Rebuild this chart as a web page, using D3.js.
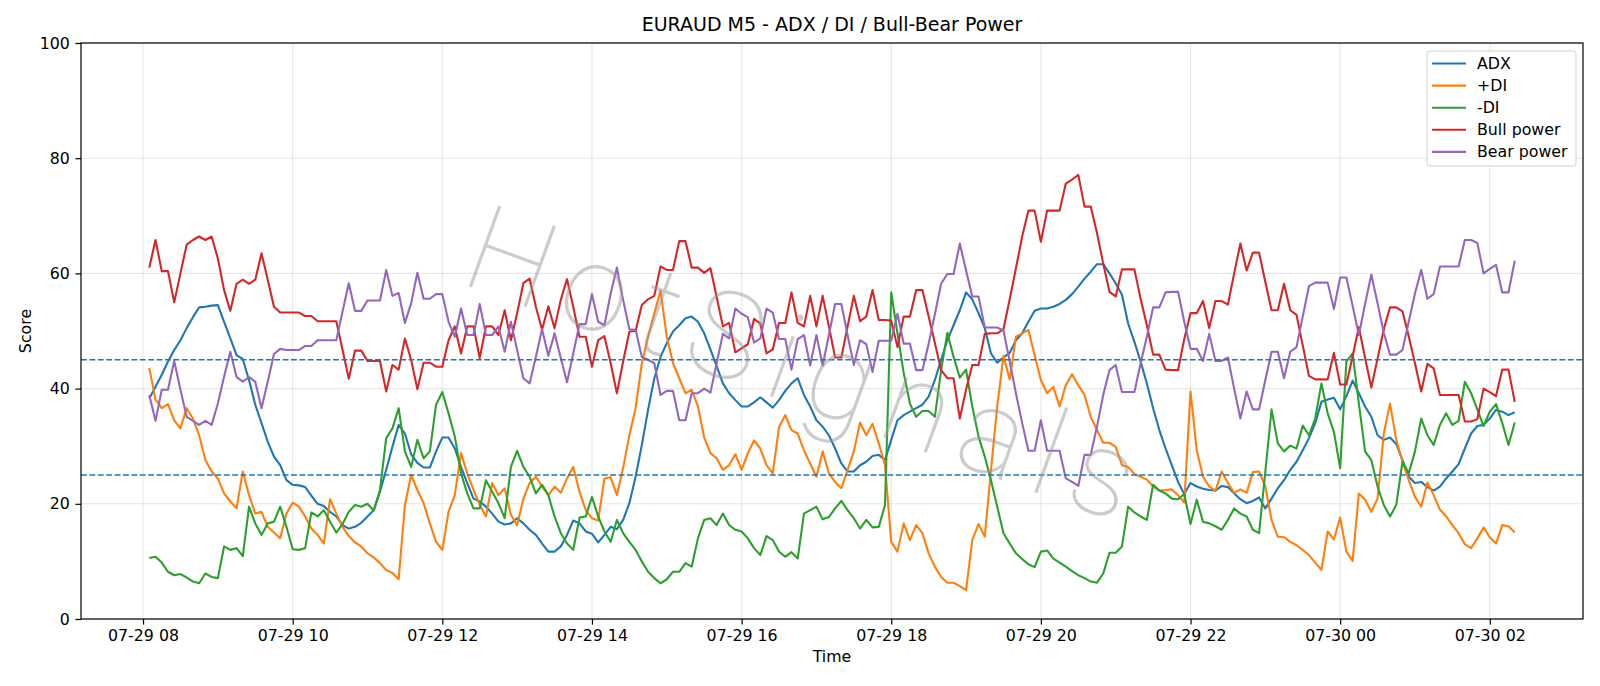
<!DOCTYPE html>
<html>
<head>
<meta charset="utf-8">
<script src="https://cdnjs.cloudflare.com/ajax/libs/d3/7.8.5/d3.min.js"></script>
<style>
  body { margin: 0; background: #fff; }
  svg { display: block; font-family: "DejaVu Sans", sans-serif; }
</style>
</head>
<body>
<svg id="chart"></svg>
<script>
// M5 bars, first one at 07-29 08:05 (year is not shown on the chart)
var firstBar = Date.UTC(2024, 6, 29, 8, 5);
var barMinutes = 5;

var adx = [38.3, 40.3, 42.4, 44.7, 46.7, 48.4, 50.5, 52.4, 54.1, 54.2, 54.4, 54.5, 51.6, 48.7, 45.8, 45.1, 41.5, 37.2, 34.0, 30.8,
    28.2, 26.7, 24.1, 23.3, 23.2, 22.9, 21.4, 20.0, 19.6, 18.6, 17.8, 16.3, 15.7, 16.0, 16.7, 17.8, 18.9, 22.1, 25.9, 29.9,
    33.7, 32.2, 28.6, 27.1, 26.3, 26.3, 29.1, 31.5, 31.5, 29.6, 26.4, 23.6, 20.9, 20.4, 19.5, 18.3, 16.9, 16.4, 16.6, 17.5,
    16.6, 15.5, 14.6, 13.1, 11.7, 11.7, 12.6, 14.6, 17.1, 16.6, 15.2, 14.8, 13.3, 14.6, 16.0, 15.6, 17.2, 20.1, 24.7, 30.2,
    36.3, 41.8, 45.5, 47.9, 49.9, 51.0, 52.2, 52.5, 51.6, 49.6, 46.8, 43.9, 40.9, 39.2, 38.0, 36.9, 36.9, 37.6, 38.5, 37.6,
    36.7, 38.0, 39.6, 40.9, 41.8, 38.9, 36.9, 34.5, 33.4, 31.9, 29.6, 27.0, 25.6, 25.6, 26.7, 27.3, 28.3, 28.5, 27.6, 31.1,
    34.5, 35.4, 36.0, 36.6, 37.2, 38.6, 41.5, 45.0, 48.4, 51.0, 53.6, 56.7, 55.5, 53.1, 50.5, 46.1, 44.5, 45.4, 46.2, 48.4,
    49.6, 51.6, 53.5, 53.9, 53.9, 54.2, 54.7, 55.4, 56.4, 57.7, 59.1, 60.3, 61.6, 61.6, 60.0, 58.3, 56.3, 51.3, 48.1, 44.7,
    40.9, 36.6, 32.8, 29.6, 26.7, 23.8, 21.7, 23.6, 23.0, 22.6, 22.4, 22.3, 23.1, 22.9, 21.8, 20.8, 20.1, 20.5, 21.1, 19.2,
    20.9, 22.7, 24.1, 25.9, 27.3, 29.3, 31.4, 34.0, 37.7, 38.1, 38.4, 36.4, 38.7, 41.4, 39.2, 36.9, 35.1, 31.9, 31.1, 31.5,
    30.4, 27.6, 24.7, 23.6, 23.8, 22.9, 22.3, 23.0, 24.4, 25.6, 26.9, 29.6, 32.2, 33.5, 33.7, 34.8, 36.3, 36.0, 35.4, 35.9];

var plusDI = [43.6, 38.1, 36.6, 37.3, 34.5, 33.1, 36.6, 34.8, 31.9, 27.6, 25.6, 24.4, 21.8, 20.4, 19.2, 25.6, 21.5, 18.3, 18.6, 16.0,
    15.0, 14.0, 18.3, 20.2, 19.5, 17.8, 15.7, 14.6, 13.1, 20.8, 18.3, 16.0, 14.4, 13.3, 12.6, 11.4, 10.7, 9.7, 8.5, 8.0,
    6.9, 19.8, 25.0, 22.4, 20.1, 16.6, 13.4, 12.0, 18.6, 21.5, 28.8, 25.3, 22.4, 19.8, 17.8, 23.6, 21.5, 22.7, 18.1, 16.3,
    20.9, 23.6, 24.7, 23.0, 21.5, 23.0, 21.9, 24.4, 26.4, 22.1, 18.9, 17.5, 17.1, 24.4, 24.6, 21.5, 26.2, 31.9, 36.6, 44.4,
    49.0, 53.1, 57.0, 49.0, 44.4, 41.8, 39.2, 39.8, 36.9, 31.5, 28.8, 27.9, 25.9, 26.7, 28.6, 25.9, 28.8, 31.0, 29.6, 26.7,
    25.3, 33.3, 35.4, 32.8, 32.2, 29.3, 27.0, 24.7, 29.1, 25.3, 23.8, 22.7, 25.9, 29.1, 34.1, 31.9, 33.9, 30.5, 26.7, 13.4,
    11.7, 16.6, 13.7, 16.3, 14.9, 11.4, 9.1, 7.3, 6.3, 6.3, 5.7, 5.0, 13.7, 16.5, 14.3, 25.9, 36.9, 45.7, 41.6, 49.0,
    49.6, 50.2, 45.8, 41.5, 39.2, 40.3, 36.9, 40.6, 42.5, 40.6, 38.9, 35.1, 32.8, 30.6, 30.6, 29.9, 26.7, 26.4, 25.2, 24.7,
    24.2, 23.0, 22.3, 22.4, 22.5, 21.5, 20.2, 39.5, 29.3, 24.7, 23.0, 22.3, 25.6, 23.6, 21.9, 22.5, 21.9, 25.5, 25.6, 23.0,
    17.2, 14.3, 14.2, 13.4, 12.8, 12.0, 11.1, 9.8, 8.5, 15.2, 13.8, 17.6, 11.7, 10.1, 21.8, 20.7, 18.6, 20.9, 32.2, 37.4,
    31.1, 27.3, 24.1, 21.2, 19.5, 23.7, 21.5, 19.0, 17.8, 16.3, 14.9, 13.0, 12.3, 14.0, 15.9, 14.2, 13.1, 16.3, 16.1, 15.0];

var minusDI = [10.6, 10.8, 9.8, 8.2, 7.6, 7.8, 7.2, 6.5, 6.2, 7.9, 7.3, 7.1, 12.6, 12.0, 12.3, 10.9, 19.5, 16.6, 14.6, 16.6,
    16.9, 19.5, 16.0, 12.1, 12.0, 12.3, 18.5, 17.8, 18.9, 16.9, 15.0, 16.5, 18.6, 19.8, 19.5, 20.0, 18.8, 22.4, 31.4, 33.1,
    36.6, 29.1, 26.4, 31.1, 27.9, 29.1, 37.2, 39.4, 35.7, 31.7, 25.3, 21.8, 19.2, 19.2, 24.1, 22.1, 20.1, 17.5, 26.4, 29.2,
    26.4, 24.7, 21.8, 23.3, 21.5, 17.8, 14.9, 13.1, 12.0, 17.6, 17.8, 21.2, 17.8, 15.2, 13.4, 17.2, 14.9, 13.4, 12.0, 10.0,
    8.2, 7.1, 6.2, 6.9, 8.2, 8.2, 9.7, 9.1, 14.0, 17.2, 17.5, 16.3, 18.3, 16.3, 15.5, 15.2, 14.0, 12.3, 11.1, 14.4,
    13.7, 11.7, 10.8, 11.6, 10.5, 18.3, 18.9, 19.5, 17.3, 17.7, 19.2, 20.5, 18.9, 17.5, 15.7, 17.2, 15.9, 16.0, 19.8, 56.7,
    49.6, 42.7, 37.4, 35.1, 36.1, 36.1, 35.1, 43.2, 49.7, 45.5, 41.9, 43.3, 36.9, 31.7, 28.2, 24.1, 19.5, 14.9, 13.1, 11.4,
    10.4, 9.5, 9.0, 11.7, 11.9, 10.5, 9.8, 9.1, 8.3, 7.6, 7.1, 6.5, 6.3, 7.9, 11.5, 11.5, 12.6, 19.5, 18.5, 17.8,
    17.2, 23.3, 22.3, 21.8, 20.9, 20.8, 21.7, 16.5, 20.7, 16.9, 16.6, 16.1, 15.5, 17.2, 19.2, 18.3, 17.8, 15.5, 14.9, 25.6,
    36.4, 30.5, 29.1, 30.1, 29.6, 33.6, 31.9, 34.8, 40.9, 35.7, 32.5, 26.2, 44.7, 46.1, 37.4, 29.1, 27.6, 23.0, 19.8, 17.8,
    19.8, 27.3, 25.3, 29.1, 34.8, 31.9, 30.2, 33.7, 35.7, 33.7, 34.4, 41.2, 39.2, 36.4, 33.5, 36.0, 37.3, 34.0, 30.2, 34.1];

var bullPower = [61.0, 65.8, 60.4, 60.4, 55.0, 60.0, 65.0, 65.8, 66.4, 65.8, 66.4, 62.6, 57.1, 53.5, 58.2, 58.9, 58.2, 58.9, 63.5, 58.9,
    54.2, 53.2, 53.2, 53.2, 53.2, 52.6, 52.6, 51.7, 51.7, 51.7, 51.7, 46.7, 41.7, 46.6, 46.6, 44.8, 44.8, 44.8, 39.5, 44.1,
    43.3, 48.7, 45.0, 39.9, 44.5, 44.5, 43.8, 43.8, 48.4, 50.8, 46.1, 50.8, 50.8, 45.3, 50.8, 50.8, 49.3, 53.6, 48.4, 53.1,
    58.3, 59.1, 54.2, 50.2, 54.3, 50.5, 55.4, 59.0, 54.2, 49.0, 49.0, 43.8, 48.4, 49.1, 44.4, 39.2, 44.7, 49.9, 50.0, 54.5,
    55.5, 56.1, 61.2, 60.6, 60.6, 65.6, 65.6, 61.0, 61.0, 60.1, 60.9, 55.9, 50.8, 51.4, 46.3, 47.0, 47.7, 52.1, 51.3, 46.1,
    46.8, 51.4, 51.4, 56.7, 51.4, 50.8, 56.1, 50.8, 56.1, 50.8, 45.4, 45.4, 50.8, 56.1, 51.7, 52.5, 57.1, 51.9, 51.9, 51.8,
    47.2, 52.5, 52.5, 57.1, 57.1, 52.5, 47.9, 43.2, 41.8, 41.8, 34.8, 39.8, 44.1, 44.1, 49.5, 49.6, 49.6, 50.3, 55.5, 60.9,
    66.4, 70.9, 70.9, 65.5, 70.9, 70.9, 70.9, 75.6, 76.3, 77.1, 71.6, 71.6, 67.0, 61.7, 56.8, 56.0, 60.7, 60.7, 60.7, 55.6,
    51.0, 45.9, 45.9, 43.3, 43.2, 43.2, 48.6, 53.1, 53.1, 55.2, 50.5, 55.2, 55.2, 54.6, 60.0, 65.2, 60.5, 63.6, 63.6, 58.5,
    53.6, 53.6, 58.2, 53.6, 52.8, 47.5, 42.2, 41.6, 41.6, 41.6, 46.2, 40.7, 40.7, 45.6, 50.7, 45.3, 40.2, 45.2, 50.3, 54.1,
    54.1, 53.4, 49.1, 44.4, 39.5, 44.3, 43.5, 38.9, 38.9, 38.9, 38.9, 34.3, 34.3, 34.7, 40.0, 39.4, 38.7, 43.3, 43.3, 37.7];

var bearPower = [38.9, 34.4, 39.8, 39.8, 44.8, 39.8, 35.1, 34.4, 33.7, 34.4, 33.7, 37.4, 42.1, 46.4, 42.0, 41.2, 42.0, 41.2, 36.6, 41.2,
    46.0, 46.9, 46.7, 46.7, 46.7, 47.4, 47.4, 48.4, 48.4, 48.4, 48.4, 53.4, 58.3, 53.5, 53.5, 55.3, 55.3, 55.3, 60.6, 56.1,
    56.6, 51.4, 54.8, 60.1, 55.6, 55.6, 56.4, 56.4, 51.6, 49.0, 53.9, 49.3, 49.3, 54.7, 49.3, 49.3, 50.8, 46.4, 51.6, 46.7,
    41.8, 40.9, 45.5, 50.3, 45.7, 49.6, 45.3, 41.1, 46.1, 51.2, 51.2, 56.4, 51.6, 51.0, 56.5, 61.0, 55.4, 50.3, 50.2, 45.5,
    45.0, 44.4, 38.9, 39.6, 39.6, 34.5, 34.5, 39.2, 39.2, 40.0, 39.3, 44.4, 49.5, 48.7, 53.9, 53.0, 52.4, 48.0, 48.7, 53.9,
    53.2, 48.6, 48.6, 43.3, 48.6, 49.3, 44.0, 49.3, 44.0, 49.3, 54.7, 54.7, 49.3, 44.1, 48.4, 47.7, 42.9, 48.3, 48.3, 48.3,
    53.0, 47.8, 47.8, 43.2, 43.2, 47.8, 52.9, 58.2, 59.9, 59.9, 65.2, 60.5, 56.0, 56.0, 50.6, 50.6, 50.6, 50.1, 44.7, 39.2,
    34.0, 29.2, 29.2, 34.5, 29.2, 29.2, 29.2, 24.4, 23.8, 23.1, 28.5, 28.5, 33.4, 38.9, 43.2, 44.1, 39.4, 39.4, 39.4, 44.4,
    49.0, 54.1, 54.1, 56.7, 56.8, 56.8, 51.6, 46.9, 46.9, 44.8, 49.5, 44.8, 44.8, 45.4, 40.0, 34.8, 39.5, 36.4, 36.4, 41.5,
    46.4, 46.4, 41.8, 46.4, 47.2, 52.5, 57.8, 58.4, 58.4, 58.4, 53.8, 59.3, 59.3, 54.4, 49.3, 54.7, 59.8, 54.8, 49.7, 45.9,
    45.9, 46.7, 51.6, 56.5, 60.6, 55.6, 56.4, 61.2, 61.2, 61.2, 61.2, 65.8, 65.8, 65.3, 60.0, 60.8, 61.5, 56.7, 56.7, 62.2];

var seriesNames = ["ADX", "+DI", "-DI", "Bull power", "Bear power"];
var seriesColors = ["#1f77b4", "#ff7f0e", "#2ca02c", "#d62728", "#9467bd"];
var levels = [45, 25];
var yTicks = [0, 20, 40, 60, 80, 100];
var watermark = "HotSignals";

var width = 1600,
    height = 686;
var margin = { top: 43, right: 17, bottom: 67, left: 81 };

var svg = d3.select("#chart")
    .attr("width", width)
    .attr("height", height);

svg.append("rect").attr("width", width).attr("height", height).attr("fill", "#fff");

var times = adx.map(function(d, i) {
    return new Date(firstBar + i * barMinutes * 60000);
});

// matplotlib style 5% margin on the time axis
var t0 = times[0].getTime(), t1 = times[times.length - 1].getTime();
var pad = (t1 - t0) * 0.05;
var x = d3.scaleUtc()
    .domain([new Date(t0 - pad), new Date(t1 + pad)])
    .range([margin.left, width - margin.right]);
var y = d3.scaleLinear()
    .domain([0, 100])
    .range([height - margin.bottom, margin.top]);

var xTicks = x.ticks(d3.utcHour.every(2));

// grid
var grid = svg.append("g").attr("stroke", "#b0b0b0").attr("stroke-opacity", 0.3).attr("stroke-width", 1.1);
grid.selectAll(".gx").data(xTicks).enter().append("line")
    .attr("x1", function(d) { return x(d); })
    .attr("x2", function(d) { return x(d); })
    .attr("y1", y(0)).attr("y2", y(100));
grid.selectAll(".gy").data(yTicks).enter().append("line")
    .attr("y1", function(d) { return y(d); })
    .attr("y2", function(d) { return y(d); })
    .attr("x1", x.range()[0]).attr("x2", x.range()[1]);

var allSeries = [adx, plusDI, minusDI, bullPower, bearPower];

var line = d3.line()
    .x(function(d, i) { return x(times[i]); })
    .y(function(d) { return y(d); });

svg.append("g").selectAll("path")
    .data(allSeries)
    .enter().append("path")
    .attr("d", line)
    .attr("fill", "none")
    .attr("stroke", function(d, i) { return seriesColors[i]; })
    .attr("stroke-width", 2.1)
    .attr("stroke-linejoin", "round");

// threshold lines
svg.append("g").selectAll("line")
    .data(levels)
    .enter().append("line")
    .attr("x1", x.range()[0]).attr("x2", x.range()[1])
    .attr("y1", function(d) { return y(d); })
    .attr("y2", function(d) { return y(d); })
    .attr("stroke", "#1f77b4")
    .attr("stroke-width", 1.5)
    .attr("stroke-dasharray", "5.9,2.5");

// faint watermark across the middle of the plot
svg.append("text")
    .text(watermark)
    .attr("text-anchor", "middle")
    .attr("transform", "translate(795,405) rotate(20)")
    .attr("fill", "#999")
    .attr("fill-opacity", 0.5)
    .style("font-family", "Roboto, Lato, sans-serif")
    .style("font-weight", 100)
    .style("letter-spacing", "15px")
    .style("font-size", "121px");

// axes
var xAxis = d3.axisBottom(x).tickValues(xTicks).tickFormat(d3.utcFormat("%m-%d %H"))
    .tickSize(5.6).tickPadding(5.6).tickSizeOuter(0);
var yAxis = d3.axisLeft(y).tickValues(yTicks).tickSize(5.6).tickPadding(5.6).tickSizeOuter(0);

var gx = svg.append("g")
    .attr("transform", "translate(0," + y(0) + ")")
    .call(xAxis);
var gy = svg.append("g")
    .attr("transform", "translate(" + margin.left + ",0)")
    .call(yAxis);

[gx, gy].forEach(function(g) {
    g.select(".domain").remove();
    g.selectAll(".tick line").attr("stroke", "#000").attr("stroke-width", 1.2);
    g.selectAll(".tick text").attr("fill", "#000").style("font-size", "15.8px")
        .style("font-family", "DejaVu Sans, sans-serif");
});

// frame
svg.append("rect")
    .attr("x", x.range()[0]).attr("y", y(100))
    .attr("width", x.range()[1] - x.range()[0])
    .attr("height", y(0) - y(100))
    .attr("fill", "none")
    .attr("stroke", "#000")
    .attr("stroke-width", 1.2);

svg.append("text")
    .text("EURAUD M5 - ADX / DI / Bull-Bear Power")
    .attr("x", (x.range()[0] + x.range()[1]) / 2)
    .attr("y", 31)
    .attr("text-anchor", "middle")
    .style("font-size", "19px");

svg.append("text")
    .text("Time")
    .attr("x", (x.range()[0] + x.range()[1]) / 2)
    .attr("y", 662)
    .attr("text-anchor", "middle")
    .style("font-size", "15.8px");

svg.append("text")
    .text("Score")
    .attr("text-anchor", "middle")
    .attr("transform", "translate(31," + (y(0) + y(100)) / 2 + ") rotate(-90)")
    .style("font-size", "15.8px");

// legend
var legend = svg.append("g").attr("transform", "translate(1427,51)");
legend.append("rect")
    .attr("width", 149).attr("height", 115)
    .attr("rx", 3)
    .attr("fill", "#fff").attr("fill-opacity", 0.8)
    .attr("stroke", "#d0d0d0");
var item = legend.selectAll(".item")
    .data(seriesNames)
    .enter().append("g")
    .attr("transform", function(d, i) { return "translate(0," + (12.5 + i * 22.1) + ")"; });
item.append("line")
    .attr("x1", 5).attr("x2", 39)
    .attr("stroke", function(d, i) { return seriesColors[i]; })
    .attr("stroke-width", 2.1);
item.append("text")
    .text(function(d) { return d; })
    .attr("x", 50)
    .attr("dy", "0.35em")
    .style("font-size", "15.8px");
</script>
</body>
</html>
